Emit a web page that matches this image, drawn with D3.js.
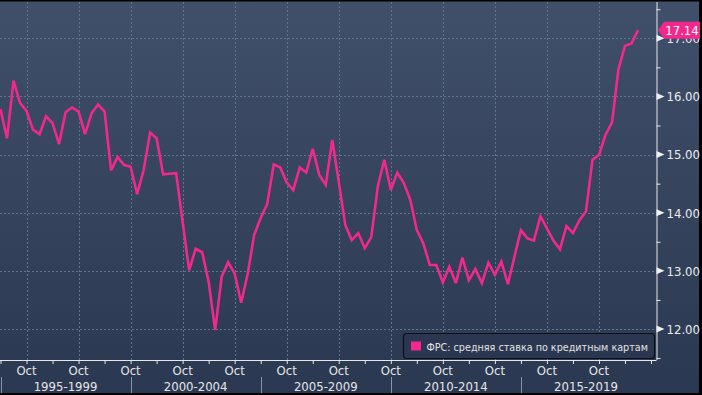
<!DOCTYPE html>
<html>
<head>
<meta charset="utf-8">
<script src="https://cdn.jsdelivr.net/npm/d3@7"></script>
<style>
  html, body { margin: 0; padding: 0; background: #000; }
  svg { display: block; }
  text { font-family: "DejaVu Sans Condensed", "DejaVu Sans", sans-serif; }
</style>
</head>
<body>
<svg width="702" height="395"></svg>
<script>
// quarterly average credit card rate, first point = start of 1995
const rates = [
  15.78, 15.28, 16.27, 15.89, 15.75, 15.43, 15.35, 15.66, 15.54, 15.18,
  15.73, 15.81, 15.74, 15.35, 15.71, 15.86, 15.74, 14.73, 14.96, 14.82,
  14.79, 14.32, 14.73, 15.38, 15.28, 14.66, 14.67, 14.68, 13.84, 13.01,
  13.38, 13.32, 12.81, 11.98, 12.90, 13.15, 12.95, 12.45, 12.95, 13.62,
  13.91, 14.15, 14.83, 14.78, 14.52, 14.39, 14.78, 14.69, 15.10, 14.65,
  14.48, 15.25, 14.53, 13.79, 13.53, 13.65, 13.39, 13.58, 14.45, 14.91,
  14.39, 14.69, 14.51, 14.22, 13.70, 13.47, 13.10, 13.10, 12.80, 13.07,
  12.79, 13.23, 12.84, 13.03, 12.79, 13.14, 12.93, 13.16, 12.77, 13.24,
  13.70, 13.56, 13.52, 13.94, 13.73, 13.52, 13.37, 13.77, 13.65, 13.87,
  14.02, 14.91, 14.99, 15.34, 15.55, 16.47, 16.87, 16.91, 17.14
];
const seriesName = "ФРС: средняя ставка по кредитным картам";

const yTicks = [12, 13, 14, 15, 16, 17];
const yMinor = [11.5, 12.5, 13.5, 14.5, 15.5, 16.5, 17.5];
const xMinor = [0, 4, 8, 12, 16, 20, 24, 28, 32, 36, 40, 44, 48, 52, 56, 60, 64, 68, 72, 76, 80, 84, 88, 92, 96, 100];
const octIdx = [4, 12, 20, 28, 36, 44, 52, 60, 68, 76, 84, 92];
const groupLabels = ["1995-1999", "2000-2004", "2005-2009", "2010-2014", "2015-2019"];
const groupStarts = [0, 20, 40, 60, 80];

const pink = "#f2288c";
const gridCol = "#5e7592";

const svg = d3.select("svg");
const plotRight = 656.5, plotBottom = 360;

const x = d3.scaleLinear().domain([0, 98]).range([0.5, 638]);
const y = d3.scaleLinear().domain([12, 17]).range([329, 38.3]);

// background
const defs = svg.append("defs");
const grad = defs.append("linearGradient").attr("id", "bg")
  .attr("x1", 0).attr("y1", 0).attr("x2", 0).attr("y2", 1);
grad.append("stop").attr("offset", "0%").attr("stop-color", "#404f6a");
grad.append("stop").attr("offset", "100%").attr("stop-color", "#2b3851");

svg.append("rect").attr("x", 0).attr("y", 1.5).attr("width", 699).attr("height", 391.5)
  .attr("fill", "url(#bg)");

defs.append("clipPath").attr("id", "plotclip")
  .append("rect").attr("x", 0).attr("y", 2).attr("width", plotRight).attr("height", plotBottom - 2);

// grid
svg.append("g").selectAll("line").data(yTicks).enter().append("line")
  .attr("x1", 0).attr("x2", plotRight)
  .attr("y1", d => Math.round(y(d)) + 0.5).attr("y2", d => Math.round(y(d)) + 0.5)
  .attr("stroke", gridCol).attr("stroke-dasharray", "2,2");

svg.append("g").selectAll("line").data(octIdx).enter().append("line")
  .attr("x1", d => Math.round(x(d)) + 0.5).attr("x2", d => Math.round(x(d)) + 0.5)
  .attr("y1", 2).attr("y2", plotBottom)
  .attr("stroke", gridCol).attr("stroke-dasharray", "2,2");

// series line
const line = d3.line().x((d, i) => x(i)).y(d => y(d));
svg.append("path").datum(rates)
  .attr("clip-path", "url(#plotclip)")
  .attr("d", line)
  .attr("fill", "none").attr("stroke", pink).attr("stroke-width", 2.6)
  .attr("stroke-linejoin", "miter").attr("stroke-miterlimit", 3);

// bottom axis
const xAxis = d3.axisBottom(x).tickValues(xMinor).tickSize(4).tickFormat("");
const gx = svg.append("g").attr("transform", `translate(0,${plotBottom})`).call(xAxis);
gx.select(".domain").attr("d", `M0,0.5H${plotRight}`).attr("stroke", "#e8e8e8");
gx.selectAll(".tick line").attr("stroke", "#e8e8e8");

svg.append("g").selectAll("text").data(octIdx).enter().append("text")
  .attr("x", d => x(d)).attr("y", 375)
  .attr("text-anchor", "middle").attr("font-size", 13).attr("fill", "#e6e6e6")
  .text("Oct");

svg.append("g").selectAll("line").data(groupStarts).enter().append("line")
  .attr("x1", d => Math.round(x(d)) + 0.5).attr("x2", d => Math.round(x(d)) + 0.5)
  .attr("y1", 377).attr("y2", 393)
  .attr("stroke", "#8a94a6");

svg.append("g").selectAll("text").data(groupLabels).enter().append("text")
  .attr("x", (d, i) => x(groupStarts[i] + 10)).attr("y", 391)
  .attr("text-anchor", "middle").attr("font-size", 13).attr("fill", "#e6e6e6")
  .text(d => d);

// right axis
const yAxis = d3.axisRight(y).tickValues(yMinor).tickSize(4).tickFormat("");
const gy = svg.append("g").attr("transform", `translate(${plotRight},0)`).call(yAxis);
gy.select(".domain").attr("d", `M0.5,2V${plotBottom}`).attr("stroke", "#e8e8e8");
gy.selectAll(".tick line").attr("stroke", "#e8e8e8");

const majors = svg.append("g").selectAll("g").data(yTicks).enter().append("g")
  .attr("transform", d => `translate(${plotRight},${y(d)})`);
majors.append("path").attr("d", "M0,-3.5L8,0L0,3.5Z").attr("fill", "#f0f0f0");
majors.append("text").attr("x", 10).attr("y", 4.8)
  .attr("font-size", 13).attr("fill", "#ececec")
  .text(d => d3.format(".2f")(d));

// last value flag (covers the 17.00 label, as in the original)
const last = rates[rates.length - 1];
const flag = svg.append("g").attr("transform", `translate(${plotRight + 1.5},${y(last)})`);
flag.append("path").attr("d", "M0,0L6,-8.5H42V8.5H6Z").attr("fill", pink);
flag.append("text").attr("x", 24).attr("y", 4.6).attr("text-anchor", "middle")
  .attr("font-size", 13).attr("fill", "#ffffff").text(d3.format(".2f")(last));

// legend
const lg = svg.append("g").attr("transform", "translate(403.5,333.5)");
lg.append("rect").attr("width", 251).attr("height", 25).attr("rx", 3)
  .attr("fill", "#2b3650").attr("stroke", "#0c0f16").attr("stroke-width", 1.2);
lg.append("rect").attr("x", 7.5).attr("y", 8).attr("width", 10).attr("height", 9).attr("fill", pink);
lg.append("text").attr("x", 23).attr("y", 17).attr("font-size", 10.7).attr("fill", "#e2e2e2")
  .text(seriesName);
</script>
</body>
</html>
